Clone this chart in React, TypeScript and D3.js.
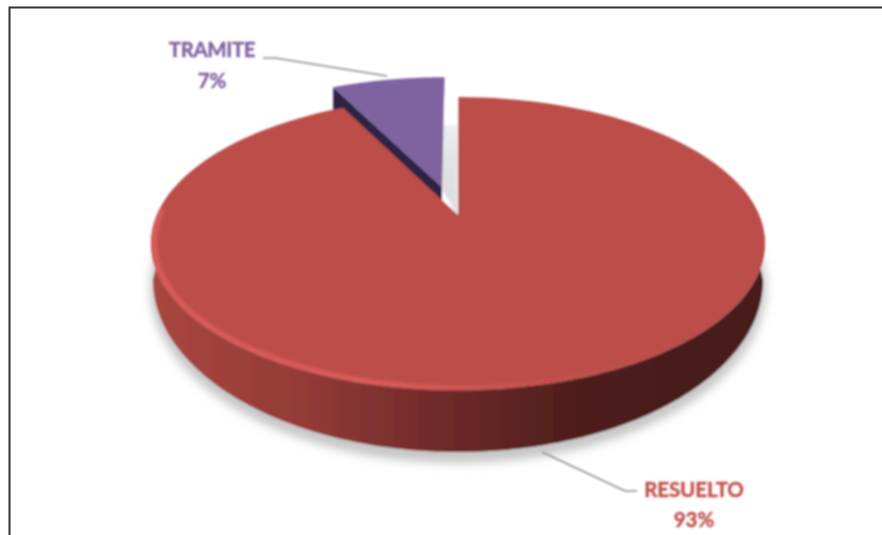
import * as d3 from "d3"

const categories = ["RESUELTO", "TRAMITE"]
const values = [92.6, 7.4]
const colors = ["#bc4e4a", "#7f62a0"]
const labelColors = ["#c2504d", "#8064a2"]

const W = 882
const H = 535

// perspectiva del disco: u,v en [-1,1], v = -1 es el fondo
const cx = 458
const persp = -0.1945
const yA = 99.1
const yB = 215
const kx = 301

// elipse inferior del disco
const baseCy = 280
const baseRx = 305
const baseRy = 172

function project(u: number, v: number, dz = 0): [number, number] {
  const d = 1 + persp * v
  return [cx + (kx * u) / d, (yA * v + yB) / d + dz]
}

const pieGen = d3.pie<number>().sort(null).startAngle(0).endAngle(2 * Math.PI)
const arcs = pieGen(values)
const line = d3.line<[number, number]>().curve(d3.curveLinear)
const pct = d3.format(".0f")

function rim(a0: number, a1: number, ou = 0, ov = 0, r = 1) {
  const steps = d3.range(0, 121).map((i) => a0 + ((a1 - a0) * i) / 120)
  return steps.map((a) => project(ou + r * Math.sin(a), ov - r * Math.cos(a)))
}

function wedge(a0: number, a1: number, ou = 0, ov = 0, r = 1) {
  const pts = [project(ou, ov), ...rim(a0, a1, ou, ov, r)]
  return line(pts) + "Z"
}

// cara lateral visible, mitad frontal del disco
function sidePath() {
  const front = rim(Math.PI / 2 - 0.2, (3 * Math.PI) / 2 + 0.2)
  const base = d3
    .range(0, 121)
    .map((i) => Math.PI / 2 + (Math.PI * i) / 120)
    .map((a): [number, number] => [cx + baseRx * Math.sin(a), baseCy - baseRy * Math.cos(a)])
    .reverse()
  return line([...front, ...base]) + "Z"
}

const explodeU = -0.055
const explodeV = -0.207
const tramite = arcs[1]
const a0 = tramite.startAngle
const a1 = tramite.endAngle

function cutFace() {
  const tipU = explodeU + Math.sin(a0)
  const tipV = explodeV - Math.cos(a0)
  return (
    line([
      project(explodeU, explodeV),
      project(tipU, tipV),
      project(tipU, tipV, 25),
      project(explodeU, explodeV, 30),
    ]) + "Z"
  )
}

// sombra dentro del hueco entre las dos porciones
function gapShadow() {
  return (
    line([
      project(-0.057, -0.73),
      project(-0.003, -0.73),
      project(-0.003, 0),
      project(-0.057, -0.2),
    ]) + "Z"
  )
}

const xGrad = d3.scaleLinear().domain([150, 765]).range([0, 100])
const sideStops: [number, string][] = [
  [152, "#a9463f"],
  [300, "#933b37"],
  [430, "#722b2a"],
  [560, "#521f1e"],
  [660, "#4a1c1b"],
  [765, "#4a1c1b"],
]

export default function App() {
  return (
    <svg width={W} height={H} style={{ position: "fixed", left: 0, top: 0, background: "#fff" }}>
      <defs>
        <linearGradient id="side" x1="0" x2="1" y1="0" y2="0">
          {sideStops.map(([x, c]) => (
            <stop key={x} offset={`${xGrad(x)}%`} stopColor={c} />
          ))}
        </linearGradient>
        <linearGradient id="bevel" gradientUnits="userSpaceOnUse" x1="150" x2="700" y1="0" y2="0">
          <stop offset="0%" stopColor="#e35f5d" />
          <stop offset="45%" stopColor="#e35f5d" />
          <stop offset="75%" stopColor="#c9514e" stopOpacity={0.6} />
          <stop offset="100%" stopColor="#bc4e4a" stopOpacity={0} />
        </linearGradient>
        <linearGradient id="gap" x1="0" x2="0" y1="0" y2="1">
          <stop offset="0%" stopColor="#efefef" />
          <stop offset="35%" stopColor="#e2e2e2" />
          <stop offset="100%" stopColor="#dedede" />
        </linearGradient>
        <filter id="shadow" x="-20%" y="-20%" width="140%" height="140%">
          <feGaussianBlur stdDeviation="5" />
        </filter>
        <filter id="soft" x="-10%" y="-10%" width="120%" height="120%">
          <feGaussianBlur stdDeviation="1.5" />
        </filter>
        <filter id="tiny" x="-5%" y="-5%" width="110%" height="110%">
          <feGaussianBlur stdDeviation="0.8" />
        </filter>
      </defs>

      <rect x={9.5} y={7.5} width={W + 20} height={H + 20} fill="none" stroke="#333" strokeWidth={2} />

      <g filter="url(#tiny)">
        {/* sombra del disco */}
        <ellipse
          cx={cx}
          cy={baseCy + 8}
          rx={baseRx + 3}
          ry={baseRy + 3}
          fill="#c6c6c6"
          filter="url(#shadow)"
        />

        {/* hueco blanco y sombra del corte */}
        <path d={wedge(a0 - 0.02, 2 * Math.PI + 0.01)} fill="#fff" />
        <path d={gapShadow()} fill="url(#gap)" />

        <path d={sidePath()} fill="url(#side)" />

        {/* porcion TRAMITE */}
        <path d={cutFace()} fill="#2f2345" />
        <path d={wedge(a0, a1, explodeU, explodeV)} fill={colors[1]} />

        {/* porcion RESUELTO */}
        <path d={wedge(arcs[0].startAngle, arcs[0].endAngle)} fill={colors[0]} />
        <path
          d={line(rim(Math.PI * 0.8, (3 * Math.PI) / 2 + 0.03, 0, 0, 0.99)) ?? ""}
          fill="none"
          stroke="url(#bevel)"
          strokeWidth={4}
          strokeLinecap="round"
          filter="url(#soft)"
        />

        {/* lineas guia */}
        <path
          d={line([[263, 58], [275, 58], [387, 76]])!}
          fill="none"
          stroke="#8a8a8a"
          strokeWidth={1.4}
        />
        <path
          d={line([[542, 452], [625, 491], [637, 491]])!}
          fill="none"
          stroke="#8a8a8a"
          strokeWidth={1.4}
        />
      </g>

      <g
        fontFamily="Lato, 'Open Sans', sans-serif"
        fontWeight={700}
        fontSize={20.5}
        textAnchor="middle"
        strokeWidth={0.4}
        filter="url(#tiny)"
      >
        <text x={212} y={57} fill={labelColors[1]} stroke={labelColors[1]} letterSpacing={-0.4}>{categories[1]}</text>
        <text x={212} y={88} fill={labelColors[1]} stroke={labelColors[1]}>{pct(values[1])}%</text>
        <text x={694} y={497} fill={labelColors[0]} stroke={labelColors[0]} letterSpacing={-0.1}>{categories[0]}</text>
        <text x={694} y={527} fill={labelColors[0]} stroke={labelColors[0]}>{pct(values[0])}%</text>
      </g>
    </svg>
  )
}
